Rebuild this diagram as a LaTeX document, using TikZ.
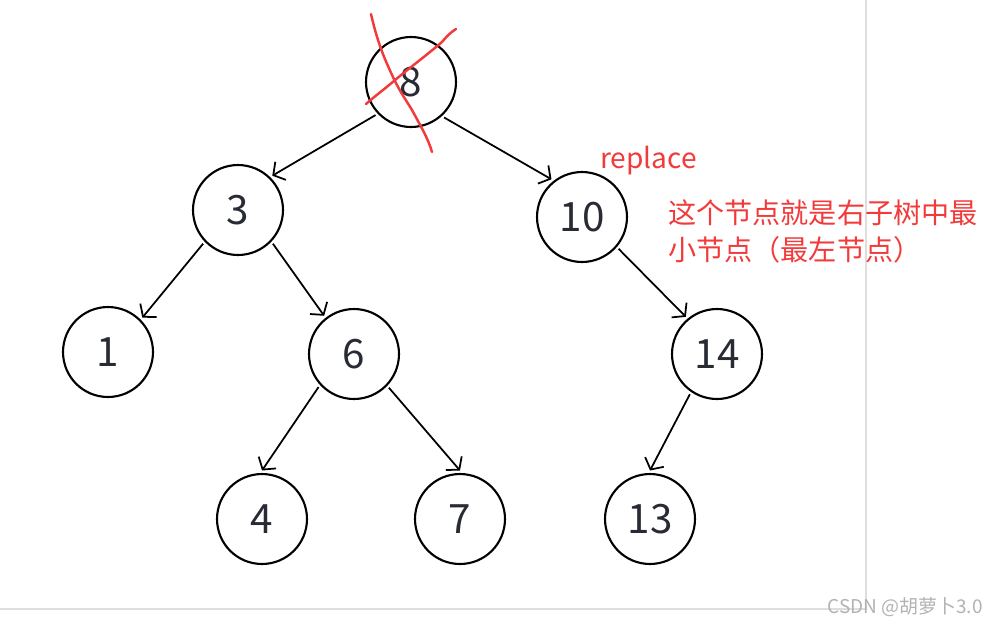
\documentclass[tikz,border=0pt]{standalone}
\usepackage{fontspec}
\setmainfont{Noto Sans}
\setsansfont{Noto Sans}
\newfontfamily\cjk{Noto Sans CJK SC}
\usetikzlibrary{arrows.meta}

\begin{document}
\begin{tikzpicture}[x=0.02cm, y=-0.02cm, font=\sffamily]

    % Define colors
    \definecolor{keycolor}{RGB}{40,42,52}
    \definecolor{notecolor}{RGB}{242,58,58}
    \definecolor{framecolor}{RGB}{222,222,222}
    \definecolor{markcolor}{RGB}{178,178,178}

    \tikzset{
        treenode/.style={draw=black, line width=1.2pt, circle, minimum size=1.8cm, inner sep=0pt,
            outer sep=2pt, text=keycolor, font=\cjk\fontsize{23}{28}\selectfont},
        treeedge/.style={line width=1pt, -{Straight Barb[length=1.7mm, width=4.2mm]}},
        crossline/.style={notecolor, line width=1.4pt, line cap=round, line join=round}
    }

    \useasboundingbox (0,0) rectangle (986,626);

    % ===== FRAME of the page =====
    \draw[framecolor, line width=0.8pt] (0,609) -- (866,609) -- (866,0);

    % 1. The tree nodes
    \node[treenode] (n8)  at (411, 82)  {8};
    \node[treenode] (n3)  at (238, 210) {3};
    \node[treenode] (n10) at (582, 217) {10};
    \node[treenode] (n1)  at (108, 352) {1};
    \node[treenode] (n6)  at (354, 354) {6};
    \node[treenode] (n14) at (717, 354) {14};
    \node[treenode] (n4)  at (262, 519) {4};
    \node[treenode] (n7)  at (460, 519) {7};
    \node[treenode] (n13) at (650, 519) {13};

    % 2. The edges
    \draw[treeedge] (n8.223)  -- (n3.45);
    \draw[treeedge] (n8.313)  -- (n10.129);
    \draw[treeedge] (n3.224)  -- (n1.45);
    \draw[treeedge] (n3.316)  -- (n6.128);
    \draw[treeedge] (n10.319) -- (n14.130);
    \draw[treeedge] (n6.223)  -- (n4.north);
    \draw[treeedge] (n6.316)  -- (n7.north);
    \draw[treeedge] (n14.236) -- (n13.north);

    % 3. The red cross over the deleted root
    \draw[crossline] (371,14) .. controls (378,45) and (386,62) .. (393,77)
        .. controls (400,92) and (406,100) .. (412,110)
        .. controls (420,125) and (428,138) .. (432,152);
    \draw[crossline] (366,104) .. controls (375,96) and (386,88) .. (395,80)
        .. controls (412,66) and (428,54) .. (442,42)
        .. controls (447,36) and (451,32) .. (456,29);

    % 4. Notes
    \node[anchor=west, text=notecolor, font=\cjk\fontsize{16}{18}\selectfont, inner sep=0pt] (replace) at (600, 161) {replace};
    \node[anchor=north west, align=left, text=notecolor, inner sep=0pt,
        font=\cjk\fontsize{16}{21}\selectfont] (note) at (668, 199)
        {这个节点就是右子树中最\\小节点（最左节点）};

    % 5. Watermark
    \node[anchor=east, text=markcolor, inner sep=0pt, font=\cjk\fontsize{10.8}{12}\selectfont] (mark) at (983, 607) {CSDN @胡萝卜3.0};

\end{tikzpicture}
\end{document}
